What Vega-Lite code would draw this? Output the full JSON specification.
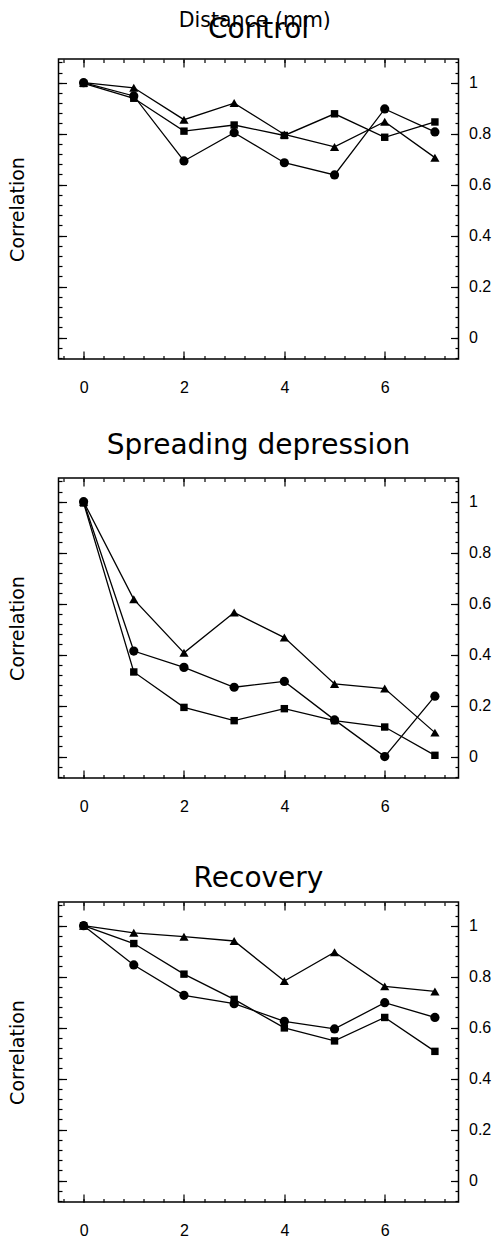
{
  "$schema": "https://vega.github.io/schema/vega-lite/v6.json",
  "padding": {"left": 7.5, "top": 11, "right": 5, "bottom": 5},
  "title": {"text": "Distance (mm)", "fontSize": 20.5, "fontWeight": "normal", "offset": -32, "dx": 5, "baseline": "alphabetic", "anchor": "middle", "font": "DejaVu Sans", "color": "black"},
  "config": {
    "view": {"stroke": "black", "strokeWidth": 1.5},
    "axis": {"grid": false, "domain": false, "tickColor": "black", "tickWidth": 1.2, "labelColor": "black", "titleColor": "black", "labelFont": "Liberation Sans", "titleFont": "DejaVu Sans"},
    "title": {"font": "DejaVu Sans", "color": "black", "fontWeight": "normal"}
  },
  "datasets": {
    "control": [
      {"d": 0, "r": 1.0, "s": "circle"}, {"d": 1, "r": 0.948, "s": "circle"}, {"d": 2, "r": 0.693, "s": "circle"}, {"d": 3, "r": 0.804, "s": "circle"},
      {"d": 4, "r": 0.686, "s": "circle"}, {"d": 5, "r": 0.638, "s": "circle"}, {"d": 6, "r": 0.897, "s": "circle"}, {"d": 7, "r": 0.807, "s": "circle"},
      {"d": 0, "r": 0.997, "s": "square"}, {"d": 1, "r": 0.939, "s": "square"}, {"d": 2, "r": 0.81, "s": "square"}, {"d": 3, "r": 0.834, "s": "square"},
      {"d": 4, "r": 0.793, "s": "square"}, {"d": 5, "r": 0.878, "s": "square"}, {"d": 6, "r": 0.786, "s": "square"}, {"d": 7, "r": 0.846, "s": "square"},
      {"d": 0, "r": 1.0, "s": "triangle"}, {"d": 1, "r": 0.98, "s": "triangle"}, {"d": 2, "r": 0.855, "s": "triangle"}, {"d": 3, "r": 0.92, "s": "triangle"},
      {"d": 4, "r": 0.797, "s": "triangle"}, {"d": 5, "r": 0.748, "s": "triangle"}, {"d": 6, "r": 0.847, "s": "triangle"}, {"d": 7, "r": 0.706, "s": "triangle"}
    ],
    "sd": [
      {"d": 0, "r": 1.0, "s": "circle"}, {"d": 1, "r": 0.414, "s": "circle"}, {"d": 2, "r": 0.35, "s": "circle"}, {"d": 3, "r": 0.272, "s": "circle"},
      {"d": 4, "r": 0.295, "s": "circle"}, {"d": 5, "r": 0.144, "s": "circle"}, {"d": 6, "r": 0.0, "s": "circle"}, {"d": 7, "r": 0.237, "s": "circle"},
      {"d": 0, "r": 0.995, "s": "square"}, {"d": 1, "r": 0.332, "s": "square"}, {"d": 2, "r": 0.193, "s": "square"}, {"d": 3, "r": 0.141, "s": "square"},
      {"d": 4, "r": 0.188, "s": "square"}, {"d": 5, "r": 0.141, "s": "square"}, {"d": 6, "r": 0.116, "s": "square"}, {"d": 7, "r": 0.005, "s": "square"},
      {"d": 0, "r": 1.0, "s": "triangle"}, {"d": 1, "r": 0.617, "s": "triangle"}, {"d": 2, "r": 0.407, "s": "triangle"}, {"d": 3, "r": 0.565, "s": "triangle"},
      {"d": 4, "r": 0.467, "s": "triangle"}, {"d": 5, "r": 0.285, "s": "triangle"}, {"d": 6, "r": 0.267, "s": "triangle"}, {"d": 7, "r": 0.094, "s": "triangle"}
    ],
    "rec": [
      {"d": 0, "r": 1.0, "s": "circle"}, {"d": 1, "r": 0.846, "s": "circle"}, {"d": 2, "r": 0.727, "s": "circle"}, {"d": 3, "r": 0.694, "s": "circle"},
      {"d": 4, "r": 0.625, "s": "circle"}, {"d": 5, "r": 0.595, "s": "circle"}, {"d": 6, "r": 0.698, "s": "circle"}, {"d": 7, "r": 0.64, "s": "circle"},
      {"d": 0, "r": 1.0, "s": "square"}, {"d": 1, "r": 0.93, "s": "square"}, {"d": 2, "r": 0.81, "s": "square"}, {"d": 3, "r": 0.711, "s": "square"},
      {"d": 4, "r": 0.599, "s": "square"}, {"d": 5, "r": 0.548, "s": "square"}, {"d": 6, "r": 0.64, "s": "square"}, {"d": 7, "r": 0.507, "s": "square"},
      {"d": 0, "r": 1.0, "s": "triangle"}, {"d": 1, "r": 0.972, "s": "triangle"}, {"d": 2, "r": 0.957, "s": "triangle"}, {"d": 3, "r": 0.94, "s": "triangle"},
      {"d": 4, "r": 0.783, "s": "triangle"}, {"d": 5, "r": 0.896, "s": "triangle"}, {"d": 6, "r": 0.762, "s": "triangle"}, {"d": 7, "r": 0.742, "s": "triangle"}
    ]
  },
  "spacing": 49,
  "vconcat": [
    {
      "spacing": 35,
      "vconcat": [
        {
          "width": 400, "height": 300,
          "title": {"text": "Control", "offset": -8, "fontSize": 28, "baseline": "alphabetic", "frame": "group", "anchor": "middle"},
          "data": {"name": "control"},
          "resolve": {"axis": {"x": "independent", "y": "independent"}},
          "layer": [
            {"mark": {"type": "line", "color": "black", "strokeWidth": 1.3},
             "encoding": {
               "x": {"field": "d", "type": "quantitative", "scale": {"domain": [-0.5, 7.47], "nice": false, "zero": false}, "axis": {"orient": "bottom", "values": [0, 2, 4, 6], "format": "d", "tickSize": -8, "labelPadding": 28, "labelFontSize": 16, "title": null, "labelFlush": false}},
               "y": {"field": "r", "type": "quantitative", "scale": {"domain": [-0.084, 1.093], "nice": false, "zero": false}, "axis": {"orient": "left", "values": [0, 0.2, 0.4, 0.6, 0.8, 1], "tickSize": -8, "labels": false, "title": "Correlation", "titleFontSize": 19, "titleFontWeight": "normal", "titlePadding": 30}},
               "detail": {"field": "s", "type": "nominal"}}},
            {"transform": [{"filter": "datum.s === 'triangle'"}],
             "mark": {"type": "point", "shape": "triangle-up", "filled": true, "color": "black", "opacity": 1, "size": 85},
             "encoding": {
               "x": {"field": "d", "type": "quantitative", "scale": {"domain": [-0.5, 7.47], "nice": false, "zero": false}, "axis": {"orient": "top", "values": [0, 2, 4, 6], "tickSize": -8, "labels": false, "title": null}},
               "y": {"field": "r", "type": "quantitative", "scale": {"domain": [-0.084, 1.093], "nice": false, "zero": false}, "axis": {"orient": "right", "values": [0, 0.2, 0.4, 0.6, 0.8, 1], "format": "~g", "tickSize": -8, "labelPadding": 18, "labelFontSize": 16, "title": null, "labelFlush": false}}}},
            {"transform": [{"filter": "datum.s === 'square'"}],
             "mark": {"type": "point", "shape": "square", "filled": true, "color": "black", "opacity": 1, "size": 55},
             "encoding": {
               "x": {"field": "d", "type": "quantitative", "scale": {"domain": [-0.5, 7.47], "nice": false, "zero": false}, "axis": {"orient": "bottom", "values": [-0.4, 0, 0.4, 0.8, 1.2, 1.6, 2, 2.4, 2.8, 3.2, 3.6, 4, 4.4, 4.8, 5.2, 5.6, 6, 6.4, 6.8, 7.2], "tickSize": -3.5, "labels": false, "title": null}},
               "y": {"field": "r", "type": "quantitative", "scale": {"domain": [-0.084, 1.093], "nice": false, "zero": false}, "axis": {"orient": "left", "values": [-0.08, -0.04, 0, 0.04, 0.08, 0.12, 0.16, 0.2, 0.24, 0.28, 0.32, 0.36, 0.4, 0.44, 0.48, 0.52, 0.56, 0.6, 0.64, 0.68, 0.72, 0.76, 0.8, 0.84, 0.88, 0.92, 0.96, 1, 1.04, 1.08], "tickSize": -3.5, "labels": false, "title": null}}}},
            {"transform": [{"filter": "datum.s === 'circle'"}],
             "mark": {"type": "point", "shape": "circle", "filled": true, "color": "black", "opacity": 1, "size": 85},
             "encoding": {
               "x": {"field": "d", "type": "quantitative", "scale": {"domain": [-0.5, 7.47], "nice": false, "zero": false}, "axis": {"orient": "top", "values": [-0.4, 0, 0.4, 0.8, 1.2, 1.6, 2, 2.4, 2.8, 3.2, 3.6, 4, 4.4, 4.8, 5.2, 5.6, 6, 6.4, 6.8, 7.2], "tickSize": -3.5, "labels": false, "title": null}},
               "y": {"field": "r", "type": "quantitative", "scale": {"domain": [-0.084, 1.093], "nice": false, "zero": false}, "axis": {"orient": "right", "values": [-0.08, -0.04, 0, 0.04, 0.08, 0.12, 0.16, 0.2, 0.24, 0.28, 0.32, 0.36, 0.4, 0.44, 0.48, 0.52, 0.56, 0.6, 0.64, 0.68, 0.72, 0.76, 0.8, 0.84, 0.88, 0.92, 0.96, 1, 1.04, 1.08], "tickSize": -3.5, "labels": false, "title": null}}}}
          ]
        },
        {
          "width": 400, "height": 300,
          "title": {"text": "Spreading depression", "offset": -5, "fontSize": 28, "baseline": "alphabetic", "frame": "group", "anchor": "middle"},
          "data": {"name": "sd"},
          "resolve": {"axis": {"x": "independent", "y": "independent"}},
          "layer": [
            {"mark": {"type": "line", "color": "black", "strokeWidth": 1.3},
             "encoding": {
               "x": {"field": "d", "type": "quantitative", "scale": {"domain": [-0.5, 7.47], "nice": false, "zero": false}, "axis": {"orient": "bottom", "values": [0, 2, 4, 6], "format": "d", "tickSize": -8, "labelPadding": 28, "labelFontSize": 16, "title": null, "labelFlush": false}},
               "y": {"field": "r", "type": "quantitative", "scale": {"domain": [-0.084, 1.093], "nice": false, "zero": false}, "axis": {"orient": "left", "values": [0, 0.2, 0.4, 0.6, 0.8, 1], "tickSize": -8, "labels": false, "title": "Correlation", "titleFontSize": 19, "titleFontWeight": "normal", "titlePadding": 30}},
               "detail": {"field": "s", "type": "nominal"}}},
            {"transform": [{"filter": "datum.s === 'triangle'"}],
             "mark": {"type": "point", "shape": "triangle-up", "filled": true, "color": "black", "opacity": 1, "size": 85},
             "encoding": {
               "x": {"field": "d", "type": "quantitative", "scale": {"domain": [-0.5, 7.47], "nice": false, "zero": false}, "axis": {"orient": "top", "values": [0, 2, 4, 6], "tickSize": -8, "labels": false, "title": null}},
               "y": {"field": "r", "type": "quantitative", "scale": {"domain": [-0.084, 1.093], "nice": false, "zero": false}, "axis": {"orient": "right", "values": [0, 0.2, 0.4, 0.6, 0.8, 1], "format": "~g", "tickSize": -8, "labelPadding": 18, "labelFontSize": 16, "title": null, "labelFlush": false}}}},
            {"transform": [{"filter": "datum.s === 'square'"}],
             "mark": {"type": "point", "shape": "square", "filled": true, "color": "black", "opacity": 1, "size": 55},
             "encoding": {
               "x": {"field": "d", "type": "quantitative", "scale": {"domain": [-0.5, 7.47], "nice": false, "zero": false}, "axis": {"orient": "bottom", "values": [-0.4, 0, 0.4, 0.8, 1.2, 1.6, 2, 2.4, 2.8, 3.2, 3.6, 4, 4.4, 4.8, 5.2, 5.6, 6, 6.4, 6.8, 7.2], "tickSize": -3.5, "labels": false, "title": null}},
               "y": {"field": "r", "type": "quantitative", "scale": {"domain": [-0.084, 1.093], "nice": false, "zero": false}, "axis": {"orient": "left", "values": [-0.08, -0.04, 0, 0.04, 0.08, 0.12, 0.16, 0.2, 0.24, 0.28, 0.32, 0.36, 0.4, 0.44, 0.48, 0.52, 0.56, 0.6, 0.64, 0.68, 0.72, 0.76, 0.8, 0.84, 0.88, 0.92, 0.96, 1, 1.04, 1.08], "tickSize": -3.5, "labels": false, "title": null}}}},
            {"transform": [{"filter": "datum.s === 'circle'"}],
             "mark": {"type": "point", "shape": "circle", "filled": true, "color": "black", "opacity": 1, "size": 85},
             "encoding": {
               "x": {"field": "d", "type": "quantitative", "scale": {"domain": [-0.5, 7.47], "nice": false, "zero": false}, "axis": {"orient": "top", "values": [-0.4, 0, 0.4, 0.8, 1.2, 1.6, 2, 2.4, 2.8, 3.2, 3.6, 4, 4.4, 4.8, 5.2, 5.6, 6, 6.4, 6.8, 7.2], "tickSize": -3.5, "labels": false, "title": null}},
               "y": {"field": "r", "type": "quantitative", "scale": {"domain": [-0.084, 1.093], "nice": false, "zero": false}, "axis": {"orient": "right", "values": [-0.08, -0.04, 0, 0.04, 0.08, 0.12, 0.16, 0.2, 0.24, 0.28, 0.32, 0.36, 0.4, 0.44, 0.48, 0.52, 0.56, 0.6, 0.64, 0.68, 0.72, 0.76, 0.8, 0.84, 0.88, 0.92, 0.96, 1, 1.04, 1.08], "tickSize": -3.5, "labels": false, "title": null}}}}
          ]
        }
      ]
    },
    {
      "width": 400, "height": 300,
      "title": {"text": "Recovery", "offset": -14, "fontSize": 28, "baseline": "alphabetic", "frame": "group", "anchor": "middle"},
      "data": {"name": "rec"},
      "resolve": {"axis": {"x": "independent", "y": "independent"}},
      "layer": [
        {"mark": {"type": "line", "color": "black", "strokeWidth": 1.3},
         "encoding": {
           "x": {"field": "d", "type": "quantitative", "scale": {"domain": [-0.5, 7.47], "nice": false, "zero": false}, "axis": {"orient": "bottom", "values": [0, 2, 4, 6], "format": "d", "tickSize": -8, "labelPadding": 28, "labelFontSize": 16, "title": null, "labelFlush": false}},
           "y": {"field": "r", "type": "quantitative", "scale": {"domain": [-0.084, 1.093], "nice": false, "zero": false}, "axis": {"orient": "left", "values": [0, 0.2, 0.4, 0.6, 0.8, 1], "tickSize": -8, "labels": false, "title": "Correlation", "titleFontSize": 19, "titleFontWeight": "normal", "titlePadding": 30}},
           "detail": {"field": "s", "type": "nominal"}}},
        {"transform": [{"filter": "datum.s === 'triangle'"}],
         "mark": {"type": "point", "shape": "triangle-up", "filled": true, "color": "black", "opacity": 1, "size": 85},
         "encoding": {
           "x": {"field": "d", "type": "quantitative", "scale": {"domain": [-0.5, 7.47], "nice": false, "zero": false}, "axis": {"orient": "top", "values": [0, 2, 4, 6], "tickSize": -8, "labels": false, "title": null}},
           "y": {"field": "r", "type": "quantitative", "scale": {"domain": [-0.084, 1.093], "nice": false, "zero": false}, "axis": {"orient": "right", "values": [0, 0.2, 0.4, 0.6, 0.8, 1], "format": "~g", "tickSize": -8, "labelPadding": 18, "labelFontSize": 16, "title": null, "labelFlush": false}}}},
        {"transform": [{"filter": "datum.s === 'square'"}],
         "mark": {"type": "point", "shape": "square", "filled": true, "color": "black", "opacity": 1, "size": 55},
         "encoding": {
           "x": {"field": "d", "type": "quantitative", "scale": {"domain": [-0.5, 7.47], "nice": false, "zero": false}, "axis": {"orient": "bottom", "values": [-0.4, 0, 0.4, 0.8, 1.2, 1.6, 2, 2.4, 2.8, 3.2, 3.6, 4, 4.4, 4.8, 5.2, 5.6, 6, 6.4, 6.8, 7.2], "tickSize": -3.5, "labels": false, "title": null}},
           "y": {"field": "r", "type": "quantitative", "scale": {"domain": [-0.084, 1.093], "nice": false, "zero": false}, "axis": {"orient": "left", "values": [-0.08, -0.04, 0, 0.04, 0.08, 0.12, 0.16, 0.2, 0.24, 0.28, 0.32, 0.36, 0.4, 0.44, 0.48, 0.52, 0.56, 0.6, 0.64, 0.68, 0.72, 0.76, 0.8, 0.84, 0.88, 0.92, 0.96, 1, 1.04, 1.08], "tickSize": -3.5, "labels": false, "title": null}}}},
        {"transform": [{"filter": "datum.s === 'circle'"}],
         "mark": {"type": "point", "shape": "circle", "filled": true, "color": "black", "opacity": 1, "size": 85},
         "encoding": {
           "x": {"field": "d", "type": "quantitative", "scale": {"domain": [-0.5, 7.47], "nice": false, "zero": false}, "axis": {"orient": "top", "values": [-0.4, 0, 0.4, 0.8, 1.2, 1.6, 2, 2.4, 2.8, 3.2, 3.6, 4, 4.4, 4.8, 5.2, 5.6, 6, 6.4, 6.8, 7.2], "tickSize": -3.5, "labels": false, "title": null}},
           "y": {"field": "r", "type": "quantitative", "scale": {"domain": [-0.084, 1.093], "nice": false, "zero": false}, "axis": {"orient": "right", "values": [-0.08, -0.04, 0, 0.04, 0.08, 0.12, 0.16, 0.2, 0.24, 0.28, 0.32, 0.36, 0.4, 0.44, 0.48, 0.52, 0.56, 0.6, 0.64, 0.68, 0.72, 0.76, 0.8, 0.84, 0.88, 0.92, 0.96, 1, 1.04, 1.08], "tickSize": -3.5, "labels": false, "title": null}}}}
      ]
    }
  ]
}
